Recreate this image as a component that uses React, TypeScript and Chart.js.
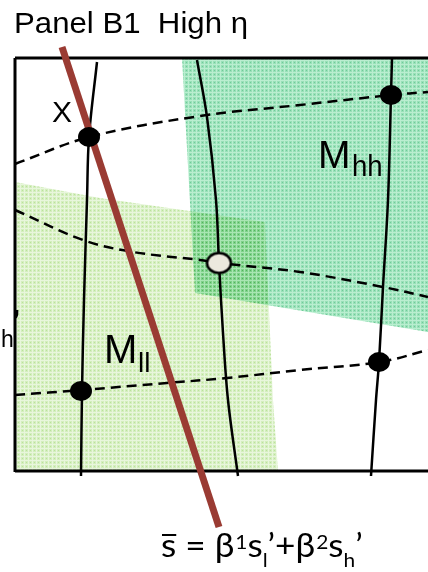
import { useEffect, useRef } from "react";
import { Chart, registerables } from "chart.js";

Chart.register(...registerables);

const W = 428;
const H = 572;

// Diagram coordinates (x to the right, y downward)
const frameTop = [{ x: 15, y: 58 }, { x: 428, y: 58 }];
const frameLeft = [{ x: 15, y: 58 }, { x: 15, y: 472 }];
const frameBottom = [{ x: 15, y: 471 }, { x: 428, y: 471 }];

const curveA = [{ x: 97, y: 62 }, { x: 89, y: 137 }, { x: 87, y: 200 }, { x: 84, y: 300 }, { x: 82, y: 391 }, { x: 81, y: 476 }];
const curveB = [{ x: 197, y: 60 }, { x: 207, y: 117 }, { x: 216, y: 200 }, { x: 219, y: 263 }, { x: 223, y: 333 }, { x: 228, y: 400 }, { x: 238, y: 476 }];
const curveC = [{ x: 392, y: 58 }, { x: 391, y: 95 }, { x: 388, y: 200 }, { x: 383, y: 287 }, { x: 379, y: 362 }, { x: 376, y: 400 }, { x: 371, y: 476 }];

const dashTop = [{ x: 15, y: 164 }, { x: 89, y: 137 }, { x: 200, y: 116 }, { x: 300, y: 105 }, { x: 391, y: 95 }, { x: 428, y: 92 }];
const dashMid = [{ x: 15, y: 210 }, { x: 83, y: 240 }, { x: 133, y: 252 }, { x: 200, y: 260 }, { x: 219, y: 263 }, { x: 300, y: 272 }, { x: 383, y: 287 }, { x: 428, y: 297 }];
const dashBottom = [{ x: 15, y: 395 }, { x: 82, y: 390 }, { x: 167, y: 383 }, { x: 227, y: 378 }, { x: 300, y: 370 }, { x: 380, y: 362 }, { x: 428, y: 350 }];

const budgetLine = [{ x: 62, y: 47 }, { x: 219, y: 527 }];

const blackDots = [{ x: 89, y: 137 }, { x: 391, y: 95 }, { x: 379, y: 362 }, { x: 81, y: 391 }];
const openDots = [{ x: 219, y: 263 }];

const regionHH = [{ x: 182, y: 58 }, { x: 428, y: 58 }, { x: 428, y: 332 }, { x: 195, y: 293 }];
const regionLL = [{ x: 15, y: 182 }, { x: 100, y: 198 }, { x: 265, y: 222 }, { x: 273, y: 400 }, { x: 278, y: 471 }, { x: 15, y: 471 }];

const titleText = "Panel B1  High η";

function makePattern(ctx: CanvasRenderingContext2D, base: string, light: string, dark: string) {
  const c = document.createElement("canvas");
  c.width = 4;
  c.height = 4;
  const g = c.getContext("2d")!;
  g.fillStyle = base;
  g.fillRect(0, 0, 4, 4);
  g.fillStyle = light;
  g.fillRect(0, 0, 4, 1);
  g.fillRect(0, 0, 1, 4);
  g.fillStyle = dark;
  g.fillRect(2, 2, 1, 1);
  return ctx.createPattern(c, "repeat")!;
}

function makeDot(fill: string, rx: number, ry: number, lw: number) {
  const c = document.createElement("canvas");
  c.width = Math.ceil(rx * 2 + lw + 2);
  c.height = Math.ceil(ry * 2 + lw + 2);
  const g = c.getContext("2d")!;
  g.beginPath();
  g.ellipse(c.width / 2, c.height / 2, rx, ry, 0, 0, Math.PI * 2);
  g.fillStyle = fill;
  g.fill();
  if (lw > 0) {
    g.lineWidth = lw;
    g.strokeStyle = "#000";
    g.stroke();
  }
  return c;
}

const diagramPlugin = {
  id: "diagram",
  beforeDatasetsDraw(chart: any) {
    const { ctx, scales } = chart;
    const sx = scales.x;
    const sy = scales.y;
    const poly = (pts: { x: number; y: number }[], fill: any) => {
      ctx.beginPath();
      pts.forEach((p, i) => {
        const a = sx.getPixelForValue(p.x);
        const b = sy.getPixelForValue(p.y);
        if (i) ctx.lineTo(a, b);
        else ctx.moveTo(a, b);
      });
      ctx.closePath();
      ctx.fillStyle = fill;
      ctx.fill();
    };
    ctx.save();
    poly(regionLL, makePattern(ctx, "rgb(212,238,190)", "rgb(232,246,220)", "rgb(186,226,155)"));
    ctx.globalCompositeOperation = "multiply";
    poly(regionHH, makePattern(ctx, "rgb(152,224,184)", "rgb(186,238,208)", "rgb(112,202,152)"));
    ctx.restore();
  },
  afterDatasetsDraw(chart: any) {
    const { ctx, scales } = chart;
    const sx = scales.x;
    const sy = scales.y;
    const X = (v: number) => sx.getPixelForValue(v);
    const Y = (v: number) => sy.getPixelForValue(v);
    const text = (s: string, x: number, y: number, font: string, hs = 1) => {
      ctx.save();
      ctx.font = font;
      ctx.translate(X(x), Y(y));
      ctx.scale(hs, 1);
      ctx.fillText(s, 0, 0);
      const w = ctx.measureText(s).width * hs;
      ctx.restore();
      return w;
    };
    ctx.save();
    ctx.fillStyle = "#000";
    ctx.textBaseline = "alphabetic";
    ctx.textAlign = "left";
    const sans = '"Liberation Sans", Arial, sans-serif';
    // title, stretched to the reference width
    ctx.font = `30px ${sans}`;
    const tw = ctx.measureText(titleText).width;
    text(titleText, 14, 33, `30px ${sans}`, 234 / tw);
    // labels
    text("X", 52, 122, `30px ${sans}`, 1.0);
    text("M", 318, 168, `39px ${sans}`, 1.0);
    text("hh", 352, 176, `29px ${sans}`, 0.95);
    text("M", 104, 363, `40px ${sans}`, 1.0);
    text("ll", 138, 372, `28px ${sans}`, 1.0);
    text("h", 1, 347, `23px ${sans}`, 1.0);
    text("’", 12, 330, `bold 30px ${sans}`, 1.0);
    // formula
    const f = "Lato, 'Open Sans', sans-serif";
    const big = `32px ${f}`;
    const small = `19px ${f}`;
    let cx = 161;
    const base = 557;
    const sW = text("s", cx, base, big, 1.1);
    ctx.lineWidth = 2;
    ctx.beginPath();
    ctx.moveTo(X(cx + 1), Y(535));
    ctx.lineTo(X(cx + sW), Y(535));
    ctx.stroke();
    cx += sW;
    cx += text(" = β", cx, base, big, 1.1);
    cx += text("1", cx + 1, 549, small, 1.1) + 1;
    cx += text("s", cx, base, big, 1.1);
    cx += text("l", cx, 567, small, 1.1);
    cx += text("’", cx, base, big, 1.1);
    cx += text("+β", cx, base, big, 1.1);
    cx += text("2", cx + 1, 549, small, 1.1) + 1;
    cx += text("s", cx, base, big, 1.1);
    cx += text("h", cx, 567, small, 1.1);
    cx += text("’", cx, base, big, 1.1);
    ctx.restore();
  },
};

export default function App() {
  const ref = useRef<HTMLCanvasElement>(null);
  useEffect(() => {
    const line = (data: any[], color: string, width: number, order: number, dash: number[] = [], tension = 0.35) => ({
      data,
      showLine: true,
      borderColor: color,
      borderWidth: width,
      borderDash: dash,
      pointRadius: 0,
      tension,
      fill: false,
      order,
    });
    const chart = new Chart(ref.current!, {
      type: "scatter",
      data: {
        datasets: [
          { data: blackDots, pointStyle: makeDot("#000", 11, 10, 0) as any, pointRadius: 11, showLine: false, order: 0 },
          { data: openDots, pointStyle: makeDot("#ece9de", 12, 10, 2.5) as any, pointRadius: 12, showLine: false, order: 0 },
          { ...line(budgetLine, "#9a3b33", 7, 1, [], 0), borderCapStyle: "butt" },
          line(dashTop, "#000", 2.5, 2, [10, 6]),
          line(dashMid, "#000", 2.5, 2, [10, 6]),
          line(dashBottom, "#000", 2.5, 2, [10, 6]),
          line(curveA, "#000", 2.5, 3),
          line(curveB, "#000", 2.5, 3),
          line(curveC, "#000", 2.5, 3),
          line(frameTop, "#000", 3, 4, [], 0),
          line(frameLeft, "#000", 3, 4, [], 0),
          line(frameBottom, "#000", 3, 4, [], 0),
        ] as any,
      },
      options: {
        animation: false,
        responsive: false,
        maintainAspectRatio: false,
        layout: { padding: 0, autoPadding: false },
        plugins: { legend: { display: false }, tooltip: { enabled: false }, title: { display: false } },
        scales: {
          x: { type: "linear", min: 0, max: W, display: false },
          y: { type: "linear", min: 0, max: H, reverse: true, display: false },
        },
        events: [],
      },
      plugins: [diagramPlugin],
    });
    return () => chart.destroy();
  }, []);
  return (
    <div style={{ position: "absolute", left: 0, top: 0, width: W, height: H, background: "#fff" }}>
      <canvas ref={ref} width={W} height={H} style={{ display: "block" }} />
    </div>
  );
}
